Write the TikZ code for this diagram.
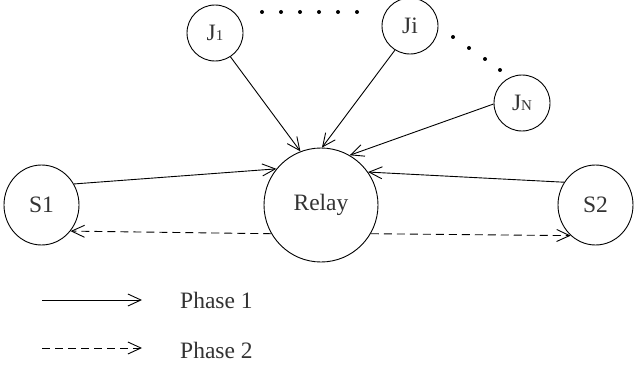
\documentclass[tikz,border=0pt]{standalone}
\usepackage{fontspec}
\setmainfont{Liberation Serif}
\usetikzlibrary{arrows.meta,shapes.geometric}

\tikzset{
  txtColor/.style={text=black!80},
  bignode/.style={draw,line width=0.9pt,font=\fontsize{23.5}{26}\selectfont,txtColor,inner sep=0pt},
  jammer/.style={bignode,circle,minimum size=56pt},
  source/.style={bignode,ellipse,minimum width=75pt,minimum height=80pt},
  relaynode/.style={bignode,circle,minimum size=114pt},
  phaseone/.style={line width=0.9pt,-{Straight Barb[length=13pt,width=12pt,line width=0.9pt]}},
  phasetwo/.style={phaseone,dash pattern=on 8pt off 5pt},
  dotmark/.style={fill=black}
}
\newcommand{\smallidx}[1]{{\fontsize{15}{15}\selectfont #1}}

\begin{document}
\begin{tikzpicture}[x=1pt,y=-1pt]
\path[use as bounding box] (0,0) rectangle (635,369);

\node[relaynode] (relay) at (321,205) {Relay};
\node[source] (s1) at (41.5,205) {S1};
\node[source] (s2) at (595.5,205) {S2};
\node[jammer] (j1) at (215,33) {J\smallidx{1}};
\node[jammer] (ji) at (410,26) {Ji};
\node[jammer] (jn) at (522,103) {J\smallidx{N}};

\foreach \dx in {262,281,300,319,338,357}
  \fill[dotmark] (\dx,12) circle (2pt);
\foreach \p in {(453,37),(469,48),(485,59),(500,70)}
  \fill[dotmark] \p circle (2pt);

\draw[phaseone] (j1.-57) -- (relay.111);
\draw[phaseone] (ji.-122) -- (relay.89);
\draw[phaseone] (jn.182) -- (relay.60);
\draw[phaseone] (s1.33) -- (relay.141);
\draw[phaseone] (s2.144) -- (relay.35);

\draw[phasetwo] (relay.210) -- (s1.-42);
\draw[phasetwo] (relay.-30) -- (s2.-129);

\coordinate (l1a) at (42,300);
\coordinate (l1b) at (142,300);
\coordinate (l2a) at (42,348);
\coordinate (l2b) at (142,348);
\draw[phaseone] (l1a) -- (l1b);
\draw[phasetwo] (l2a) -- (l2b);
\node[txtColor,anchor=west,inner sep=0pt,font=\fontsize{23.5}{26}\selectfont] (p1) at (180,300) {Phase 1};
\node[txtColor,anchor=west,inner sep=0pt,font=\fontsize{23.5}{26}\selectfont] (p2) at (180,350) {Phase 2};
\end{tikzpicture}
\end{document}
